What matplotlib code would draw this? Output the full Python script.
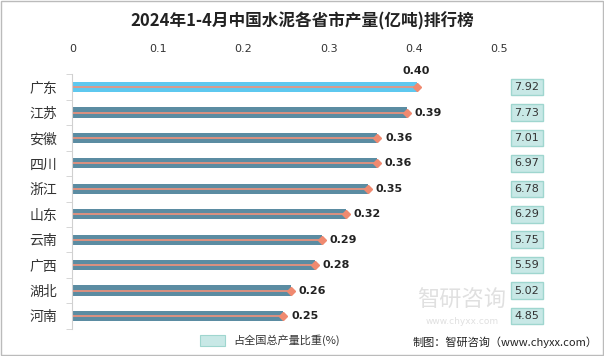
import numpy as np
import matplotlib.pyplot as plt
from matplotlib.patches import Rectangle

plt.rcParams['font.family'] = ['Noto Sans CJK SC', 'DejaVu Sans']

provinces = ['广东', '江苏', '安徽', '四川', '浙江', '山东', '云南', '广西', '湖北', '河南']
output = [0.403, 0.392, 0.357, 0.356, 0.346, 0.320, 0.292, 0.284, 0.256, 0.247]
share = ['7.92', '7.73', '7.01', '6.97', '6.78', '6.29', '5.75', '5.59', '5.02', '4.85']

fig = plt.figure(figsize=(6.04, 3.56), dpi=100)
ax = fig.add_axes([0.12, 0.0767, 0.707, 0.7143])

y = np.arange(len(provinces))
colors = ['#5ec8ef'] + ['#5b8ca2'] * (len(provinces) - 1)
ax.barh(y, output, height=0.4, color=colors, edgecolor='none')
ax.hlines(y, 0, output, color='#f2917a', lw=1.2)
ax.plot(output, y, 'D', color='#f08a70', ms=4.5, mec='#f08a70')

for i, v in enumerate(output):
    if i == 0:
        ax.text(v, i - 0.45, f'{v:.2f}', ha='center', va='bottom', fontsize=8,
                fontweight='bold', color='#222222', family='DejaVu Sans')
    else:
        ax.text(v + 0.009, i, f'{v:.2f}', ha='left', va='center', fontsize=8,
                fontweight='bold', color='#222222', family='DejaVu Sans')
    ax.text(0.532, i, share[i], ha='center', va='center', fontsize=8, color='#333333',
            family='DejaVu Sans', clip_on=False,
            bbox=dict(boxstyle='square,pad=0.3', fc='#c8e8e6', ec='#9fd6cf', lw=1))

ax.set_xlim(0, 0.5)
ax.set_ylim(len(provinces) - 0.5, -0.5)
ax.xaxis.tick_top()
ax.set_xticks([0, 0.1, 0.2, 0.3, 0.4, 0.5])
ax.set_xticklabels(['0', '0.1', '0.2', '0.3', '0.4', '0.5'], family='DejaVu Sans')
ax.tick_params(axis='x', length=0, labelsize=8, colors='#333333', pad=15)
ax.set_yticks(y)
ax.set_yticklabels(provinces, fontsize=10, color='#333333')
ax.set_yticks(np.arange(-0.5, len(provinces)), minor=True)
ax.tick_params(axis='y', which='major', length=0, pad=11)
ax.tick_params(axis='y', which='minor', length=4, color='#d0d0d0')
for s in ['top', 'right', 'bottom']:
    ax.spines[s].set_visible(False)
ax.spines['left'].set_color('#d0d0d0')

fig.text(0.5, 0.94, '2024年1-4月中国水泥各省市产量(亿吨)排行榜', ha='center', va='center',
         fontsize=12, fontweight='bold', color='#222222')

fig.patches.append(Rectangle((200 / 604, 1 - 346 / 356), 25 / 604, 11 / 356,
                             transform=fig.transFigure, fc='#c8e8e6', ec='#9fd6cf', lw=0.8))
fig.text(233 / 604, 1 - 340 / 356, '占全国总产量比重(%)', ha='left', va='center',
         fontsize=8, color='#333333')
fig.text(0.99, 1 - 342 / 356, '制图：智研咨询（www.chyxx.com）', ha='right', va='center',
         fontsize=8, color='#222222')

# watermark, kept clear of the share boxes
fig.text(462 / 604, 1 - 300 / 356, '智研咨询', ha='center', va='center', fontsize=16,
         color='#999999', alpha=0.3)
fig.text(462 / 604, 1 - 322 / 356, 'www.chyxx.com', ha='center', va='center',
         fontsize=6.5, color='#999999', alpha=0.3, family='DejaVu Sans')

fig.patches.append(Rectangle((0.001, 0.002), 0.997, 0.996, transform=fig.transFigure,
                             fill=False, ec='#bbbbbb', lw=1))

fig.savefig('out.png', dpi=100)
